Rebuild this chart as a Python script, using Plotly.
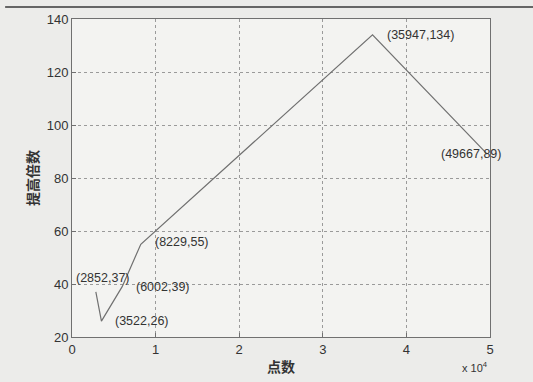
import plotly.graph_objects as go

x_pts = [2852, 3522, 6002, 8229, 35947, 49667]
y_pts = [37, 26, 39, 55, 134, 89]
labels = ["(2852,37)", "(3522,26)", "(6002,39)", "(8229,55)", "(35947,134)", "(49667,89)"]
x_tickvals = [0, 10000, 20000, 30000, 40000, 50000]
x_ticktext = ["0", "1", "2", "3", "4", "5"]
y_tickvals = [20, 40, 60, 80, 100, 120, 140]

# label placement: (xanchor, yanchor, xshift, yshift)
label_pos = [
    ("center", "bottom", 7, 5),
    ("left", "middle", 12, 0),
    ("left", "middle", 12, 0),
    ("left", "middle", 12, 2),
    ("left", "middle", 12, 0),
    ("right", "middle", 16, 0),
]

fig = go.Figure()
fig.add_trace(go.Scatter(x=x_pts, y=y_pts, mode="lines",
                         line=dict(color="#707070", width=1.2), showlegend=False,
                         hoverinfo="skip"))

for xv, yv, t, (xa, ya, xs, ys) in zip(x_pts, y_pts, labels, label_pos):
    fig.add_annotation(x=xv, y=yv, text=t, showarrow=False, xanchor=xa, yanchor=ya,
                       xshift=xs, yshift=ys,
                       font=dict(family="Liberation Sans, Arial", size=12.5, color="#333333"))

fig.add_annotation(xref="paper", yref="paper", x=1.0, y=0, yshift=-30, xanchor="right",
                   yanchor="middle", text="x 10<sup>4</sup>", showarrow=False,
                   font=dict(family="Liberation Sans, Arial", size=11, color="#333333"))

fig.add_shape(type="line", xref="paper", yref="paper", x0=-0.16, x1=1.12,
              y0=1 + 12 / 318, y1=1 + 12 / 318, line=dict(color="#3a3a3a", width=1.5))

axis_common = dict(showline=True, linecolor="#707070", linewidth=1, mirror=True,
                   ticks="inside", ticklen=4, tickcolor="#707070",
                   showgrid=True, gridcolor="#9a9a9a", griddash="dot", gridwidth=1,
                   zeroline=False, automargin=False,
                   tickfont=dict(family="Liberation Sans, Arial", size=13, color="#333333"))

fig.update_xaxes(range=[0, 50000], tickvals=x_tickvals, ticktext=x_ticktext,
                 title=dict(text="<b>点数</b>", standoff=6,
                            font=dict(family="Noto Sans CJK SC", size=14, color="#333333")),
                 **axis_common)
fig.update_yaxes(range=[20, 140], tickvals=y_tickvals,
                 title=dict(text="<b>提高倍数</b>", standoff=4,
                            font=dict(family="Noto Sans CJK SC", size=14, color="#333333")),
                 **axis_common)

fig.update_layout(width=533, height=382,
                  margin=dict(l=72, r=43, t=19, b=45),
                  paper_bgcolor="#ececea", plot_bgcolor="#f3f3f1")

fig.write_html("out.html", config={"displayModeBar": False},
               post_script="document.body.style.margin='0';document.body.style.background='#ececea';")
